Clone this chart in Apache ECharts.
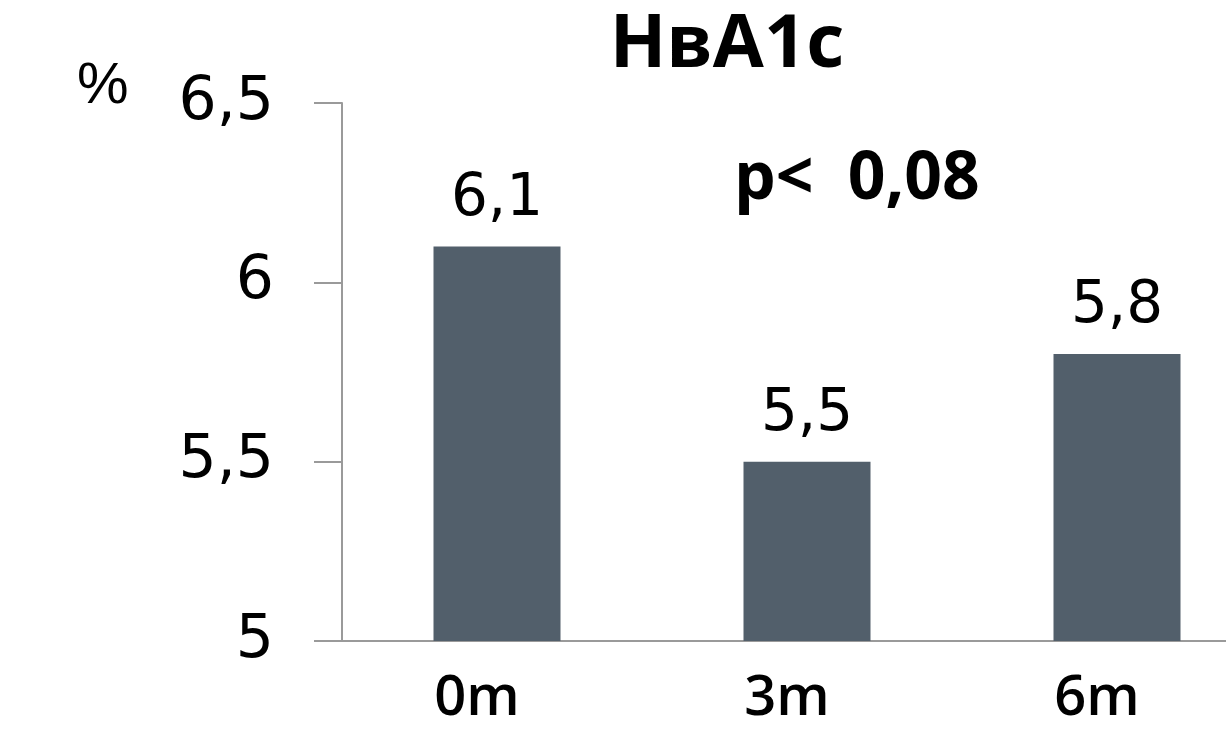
<!DOCTYPE html>
<html>
<head>
<meta charset="utf-8">
<script src="https://cdn.jsdelivr.net/npm/echarts@6/dist/echarts.min.js"></script>
<style>
  html, body { margin: 0; padding: 0; background: #ffffff; overflow: hidden; }
  #chart { width: 1272px; height: 731px; }
</style>
</head>
<body>
<div id="chart"></div>
<script>
// Time points and HbA1c values (%)
const categories = ['0m', '3m', '6m'];
const hba1cValues = [6.1, 5.5, 5.8];
const yTicks = { min: 5, max: 6.5, interval: 0.5 };
const titleText = 'НвА1с';
const pValueText = 'p<  0,08';
const unitText = '%';

const comma = v => String(v).replace('.', ',');

const chart = echarts.init(document.getElementById('chart'), null, { renderer: 'canvas' });

chart.setOption({
  backgroundColor: '#ffffff',
  animation: false,
  title: {
    text: titleText,
    left: 722,
    top: 4,
    textAlign: 'center',
    textStyle: {
      fontFamily: '"Open Sans"',
      fontWeight: 'bold',
      fontSize: 74,
      color: '#000000'
    }
  },
  graphic: [
    {
      type: 'text',
      left: 77,
      top: 58,
      style: { text: unitText, font: '58px "Liberation Sans"', fill: '#000000' }
    },
    {
      type: 'text',
      left: 734,
      top: 147,
      style: { text: pValueText, font: 'bold 66px "Open Sans"', fill: '#000000' }
    }
  ],
  grid: { left: 342, right: 0, top: 103, bottom: 90 },
  xAxis: {
    type: 'category',
    data: categories,
    axisLine: { show: true, lineStyle: { color: '#9a9a9a', width: 2 } },
    axisTick: { show: false },
    axisLabel: {
      margin: 30,
      padding: [0, 40, 0, 0],
      fontFamily: '"Open Sans"',
      fontWeight: 600,
      fontSize: 56,
      color: '#000000'
    }
  },
  yAxis: {
    type: 'value',
    min: yTicks.min,
    max: yTicks.max,
    interval: yTicks.interval,
    splitLine: { show: false },
    axisLine: { show: true, lineStyle: { color: '#9a9a9a', width: 2 } },
    axisTick: { show: true, inside: false, length: 28, lineStyle: { color: '#9a9a9a', width: 2 } },
    axisLabel: {
      margin: 68,
      fontFamily: 'DejaVu Sans',
      fontSize: 60,
      color: '#000000',
      formatter: v => comma(v)
    }
  },
  series: [{
    type: 'bar',
    data: hba1cValues,
    barWidth: 127,
    itemStyle: { color: '#525f6b' },
    label: {
      show: true,
      position: 'top',
      distance: 18,
      fontFamily: 'DejaVu Sans',
      fontSize: 58,
      color: '#000000',
      formatter: p => comma(p.value)
    }
  }]
});
</script>
</body>
</html>
